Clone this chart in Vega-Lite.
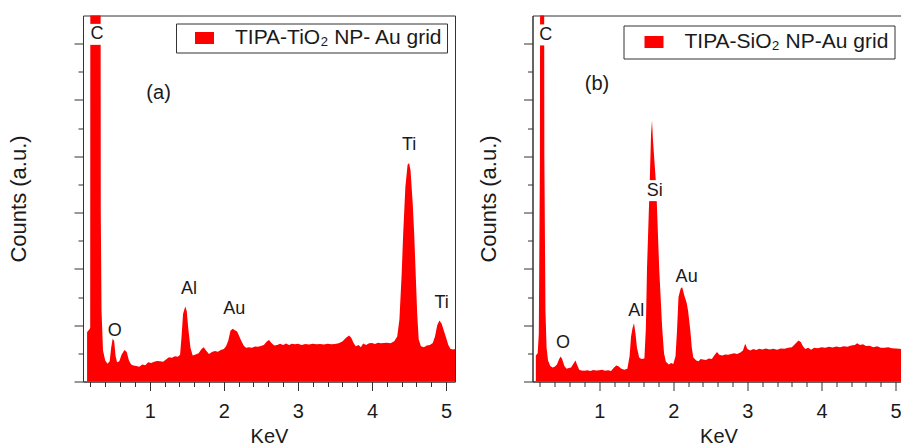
{
  "$schema": "https://vega.github.io/schema/vega-lite/v6.json",
  "padding": {"left": 7, "top": 14.5, "right": 0, "bottom": 0},
  "background": "white",
  "bounds": "flush",
  "spacing": 77.5,
  "config": {
    "font": "Liberation Sans",
    "view": {"stroke": "#333", "strokeWidth": 1},
    "axis": {
      "grid": false,
      "domainColor": "#333",
      "tickColor": "#333",
      "labelColor": "#1a1a1a",
      "titleColor": "#1a1a1a",
      "labelFont": "Liberation Sans",
      "titleFont": "Liberation Sans",
      "labelFontSize": 20,
      "titleFontSize": 20,
      "titleFontWeight": "normal"
    },
    "legend": {
      "labelFont": "Liberation Sans",
      "labelFontSize": 21,
      "labelColor": "#1a1a1a",
      "strokeColor": "#333",
      "fillColor": "white",
      "padding": 4,
      "symbolType": "M-1,-0.63H1V0.63H-1Z",
      "symbolSize": 361,
      "symbolStrokeWidth": 0,
      "symbolOffset": 14,
      "labelOffset": 20,
      "labelLimit": 400
    }
  },
  "resolve": {"scale": {"color": "independent"}, "legend": {"color": "independent"}},
  "datasets": {
    "specA": [
      {"keV":0.155,"counts":1.75},{"keV":0.17,"counts":1.8},{"keV":0.185,"counts":1.85},{"keV":0.197,"counts":1.9},
      {"keV":0.203,"counts":40},{"keV":0.33,"counts":40},{"keV":0.34,"counts":6},{"keV":0.35,"counts":2.5},
      {"keV":0.37,"counts":1.1},{"keV":0.40,"counts":0.75},{"keV":0.43,"counts":0.63},{"keV":0.46,"counts":0.72},
      {"keV":0.48,"counts":1.2},{"keV":0.50,"counts":1.52},{"keV":0.52,"counts":1.45},{"keV":0.54,"counts":0.9},
      {"keV":0.56,"counts":0.68},{"keV":0.59,"counts":0.72},{"keV":0.62,"counts":0.95},{"keV":0.66,"counts":1.12},
      {"keV":0.69,"counts":1.05},{"keV":0.72,"counts":0.75},{"keV":0.75,"counts":0.6},{"keV":0.78,"counts":0.57},
      {"keV":0.82,"counts":0.55},{"keV":0.86,"counts":0.52},{"keV":0.90,"counts":0.6},{"keV":0.94,"counts":0.58},
      {"keV":0.98,"counts":0.68},{"keV":1.02,"counts":0.66},{"keV":1.06,"counts":0.7},{"keV":1.10,"counts":0.73},
      {"keV":1.14,"counts":0.72},{"keV":1.18,"counts":0.7},{"keV":1.22,"counts":0.78},{"keV":1.26,"counts":0.86},
      {"keV":1.30,"counts":0.84},{"keV":1.34,"counts":0.9},{"keV":1.38,"counts":0.88},{"keV":1.41,"counts":0.95},
      {"keV":1.43,"counts":1.6},{"keV":1.45,"counts":2.4},{"keV":1.48,"counts":2.66},{"keV":1.50,"counts":2.5},
      {"keV":1.52,"counts":1.9},{"keV":1.55,"counts":1.2},{"keV":1.58,"counts":0.92},{"keV":1.62,"counts":0.96},
      {"keV":1.66,"counts":1.0},{"keV":1.70,"counts":1.15},{"keV":1.73,"counts":1.22},{"keV":1.76,"counts":1.1},
      {"keV":1.80,"counts":0.98},{"keV":1.84,"counts":1.05},{"keV":1.88,"counts":1.08},{"keV":1.92,"counts":1.06},
      {"keV":1.96,"counts":1.12},{"keV":2.00,"counts":1.15},{"keV":2.03,"counts":1.25},{"keV":2.06,"counts":1.45},
      {"keV":2.09,"counts":1.8},{"keV":2.12,"counts":1.87},{"keV":2.15,"counts":1.82},{"keV":2.18,"counts":1.78},
      {"keV":2.21,"counts":1.6},{"keV":2.24,"counts":1.42},{"keV":2.27,"counts":1.27},{"keV":2.30,"counts":1.2},
      {"keV":2.34,"counts":1.22},{"keV":2.38,"counts":1.2},{"keV":2.42,"counts":1.24},{"keV":2.46,"counts":1.23},
      {"keV":2.50,"counts":1.26},{"keV":2.54,"counts":1.3},{"keV":2.58,"counts":1.42},{"keV":2.61,"counts":1.47},
      {"keV":2.64,"counts":1.38},{"keV":2.68,"counts":1.28},{"keV":2.72,"counts":1.3},{"keV":2.76,"counts":1.34},
      {"keV":2.80,"counts":1.3},{"keV":2.84,"counts":1.35},{"keV":2.88,"counts":1.3},{"keV":2.92,"counts":1.34},
      {"keV":2.96,"counts":1.32},{"keV":3.00,"counts":1.34},{"keV":3.05,"counts":1.3},{"keV":3.10,"counts":1.33},
      {"keV":3.15,"counts":1.31},{"keV":3.20,"counts":1.34},{"keV":3.25,"counts":1.32},{"keV":3.30,"counts":1.33},
      {"keV":3.35,"counts":1.31},{"keV":3.40,"counts":1.34},{"keV":3.45,"counts":1.32},{"keV":3.50,"counts":1.33},
      {"keV":3.55,"counts":1.36},{"keV":3.60,"counts":1.42},{"keV":3.65,"counts":1.55},{"keV":3.69,"counts":1.63},
      {"keV":3.72,"counts":1.55},{"keV":3.75,"counts":1.38},{"keV":3.78,"counts":1.25},{"keV":3.82,"counts":1.3},
      {"keV":3.85,"counts":1.22},{"keV":3.88,"counts":1.35},{"keV":3.92,"counts":1.3},{"keV":3.96,"counts":1.36},
      {"keV":4.00,"counts":1.37},{"keV":4.04,"counts":1.33},{"keV":4.08,"counts":1.38},{"keV":4.12,"counts":1.36},
      {"keV":4.16,"counts":1.37},{"keV":4.20,"counts":1.38},{"keV":4.25,"counts":1.36},{"keV":4.30,"counts":1.43},
      {"keV":4.34,"counts":1.6},{"keV":4.37,"counts":2.2},{"keV":4.40,"counts":3.8},{"keV":4.42,"counts":5.2},
      {"keV":4.45,"counts":6.9},{"keV":4.48,"counts":7.7},{"keV":4.50,"counts":7.76},{"keV":4.52,"counts":7.5},
      {"keV":4.55,"counts":6.3},{"keV":4.57,"counts":5.2},{"keV":4.59,"counts":3.8},{"keV":4.61,"counts":2.4},
      {"keV":4.63,"counts":1.5},{"keV":4.66,"counts":1.25},{"keV":4.70,"counts":1.22},{"keV":4.74,"counts":1.28},
      {"keV":4.78,"counts":1.3},{"keV":4.82,"counts":1.37},{"keV":4.85,"counts":1.6},{"keV":4.88,"counts":2.0},
      {"keV":4.91,"counts":2.17},{"keV":4.94,"counts":2.05},{"keV":4.97,"counts":1.8},{"keV":5.00,"counts":1.55},
      {"keV":5.03,"counts":1.3},{"keV":5.06,"counts":1.15},{"keV":5.10,"counts":1.14},{"keV":5.12,"counts":1.15}
    ],
    "specB": [
      {"keV":0.145,"counts":0.92},{"keV":0.17,"counts":1.0},{"keV":0.185,"counts":1.7},{"keV":0.20,"counts":8},
      {"keV":0.215,"counts":40},{"keV":0.245,"counts":40},{"keV":0.26,"counts":8},{"keV":0.275,"counts":2.5},
      {"keV":0.29,"counts":1.2},{"keV":0.31,"counts":0.75},{"keV":0.34,"counts":0.55},{"keV":0.37,"counts":0.5},
      {"keV":0.40,"counts":0.52},{"keV":0.43,"counts":0.6},{"keV":0.46,"counts":0.8},{"keV":0.48,"counts":0.89},
      {"keV":0.50,"counts":0.8},{"keV":0.53,"counts":0.55},{"keV":0.56,"counts":0.45},{"keV":0.59,"counts":0.48},
      {"keV":0.62,"counts":0.5},{"keV":0.65,"counts":0.62},{"keV":0.68,"counts":0.75},{"keV":0.70,"counts":0.6},
      {"keV":0.73,"counts":0.42},{"keV":0.76,"counts":0.39},{"keV":0.80,"counts":0.38},{"keV":0.84,"counts":0.4},
      {"keV":0.88,"counts":0.37},{"keV":0.92,"counts":0.41},{"keV":0.96,"counts":0.39},{"keV":1.00,"counts":0.4},
      {"keV":1.04,"counts":0.42},{"keV":1.08,"counts":0.38},{"keV":1.12,"counts":0.4},{"keV":1.16,"counts":0.37},
      {"keV":1.20,"counts":0.5},{"keV":1.23,"counts":0.57},{"keV":1.26,"counts":0.54},{"keV":1.30,"counts":0.45},
      {"keV":1.34,"counts":0.42},{"keV":1.38,"counts":0.45},{"keV":1.41,"counts":0.9},{"keV":1.43,"counts":1.6},
      {"keV":1.45,"counts":1.9},{"keV":1.47,"counts":2.07},{"keV":1.49,"counts":1.7},{"keV":1.51,"counts":1.2},
      {"keV":1.54,"counts":0.85},{"keV":1.57,"counts":0.8},{"keV":1.61,"counts":0.82},{"keV":1.63,"counts":1.9},
      {"keV":1.645,"counts":4.0},{"keV":1.68,"counts":6.9},{"keV":1.70,"counts":8.8},{"keV":1.713,"counts":9.27},
      {"keV":1.725,"counts":8.6},{"keV":1.77,"counts":6.9},{"keV":1.81,"counts":4.0},{"keV":1.85,"counts":1.9},
      {"keV":1.875,"counts":1.0},{"keV":1.90,"counts":0.7},{"keV":1.94,"counts":0.6},{"keV":1.97,"counts":0.66},
      {"keV":2.00,"counts":0.62},{"keV":2.03,"counts":0.9},{"keV":2.05,"counts":1.8},{"keV":2.07,"counts":3.0},
      {"keV":2.10,"counts":3.3},{"keV":2.12,"counts":3.35},{"keV":2.15,"counts":3.05},{"keV":2.18,"counts":2.8},
      {"keV":2.20,"counts":2.5},{"keV":2.23,"counts":1.8},{"keV":2.25,"counts":1.2},{"keV":2.27,"counts":0.85},
      {"keV":2.31,"counts":0.75},{"keV":2.34,"counts":0.72},{"keV":2.37,"counts":0.8},{"keV":2.40,"counts":0.78},
      {"keV":2.44,"counts":0.76},{"keV":2.48,"counts":0.82},{"keV":2.52,"counts":0.8},{"keV":2.56,"counts":0.95},
      {"keV":2.59,"counts":1.05},{"keV":2.62,"counts":0.95},{"keV":2.66,"counts":0.92},{"keV":2.70,"counts":0.96},
      {"keV":2.74,"counts":0.95},{"keV":2.78,"counts":0.98},{"keV":2.82,"counts":1.0},{"keV":2.86,"counts":0.98},
      {"keV":2.90,"counts":1.02},{"keV":2.94,"counts":1.1},{"keV":2.97,"counts":1.34},{"keV":3.00,"counts":1.15},
      {"keV":3.04,"counts":1.1},{"keV":3.08,"counts":1.15},{"keV":3.12,"counts":1.12},{"keV":3.16,"counts":1.16},
      {"keV":3.20,"counts":1.14},{"keV":3.25,"counts":1.17},{"keV":3.30,"counts":1.14},{"keV":3.35,"counts":1.16},
      {"keV":3.40,"counts":1.13},{"keV":3.45,"counts":1.17},{"keV":3.50,"counts":1.16},{"keV":3.55,"counts":1.2},
      {"keV":3.60,"counts":1.22},{"keV":3.65,"counts":1.35},{"keV":3.69,"counts":1.46},{"keV":3.72,"counts":1.4},
      {"keV":3.75,"counts":1.25},{"keV":3.78,"counts":1.15},{"keV":3.82,"counts":1.2},{"keV":3.86,"counts":1.13},
      {"keV":3.90,"counts":1.2},{"keV":3.95,"counts":1.18},{"keV":4.00,"counts":1.22},{"keV":4.05,"counts":1.2},
      {"keV":4.10,"counts":1.23},{"keV":4.15,"counts":1.21},{"keV":4.20,"counts":1.24},{"keV":4.25,"counts":1.22},
      {"keV":4.30,"counts":1.25},{"keV":4.35,"counts":1.23},{"keV":4.40,"counts":1.28},{"keV":4.45,"counts":1.3},
      {"keV":4.48,"counts":1.36},{"keV":4.52,"counts":1.3},{"keV":4.56,"counts":1.32},{"keV":4.60,"counts":1.26},
      {"keV":4.65,"counts":1.27},{"keV":4.70,"counts":1.22},{"keV":4.75,"counts":1.25},{"keV":4.80,"counts":1.2},
      {"keV":4.85,"counts":1.2},{"keV":4.90,"counts":1.22},{"keV":4.95,"counts":1.18},{"keV":5.00,"counts":1.17},
      {"keV":5.05,"counts":1.16},{"keV":5.12,"counts":1.15}
    ],
    "labelsA": [
      {"label":"C","keV":0.29,"counts":12.33},
      {"label":"(a)","keV":1.12,"counts":10.26},
      {"label":"O","keV":0.53,"counts":1.79},
      {"label":"Al","keV":1.53,"counts":3.29},
      {"label":"Au","keV":2.14,"counts":2.57},
      {"label":"Ti","keV":4.50,"counts":8.41},
      {"label":"Ti","keV":4.94,"counts":2.78}
    ],
    "labelsB": [
      {"label":"C","keV":0.28,"counts":12.31},
      {"label":"(b)","keV":0.97,"counts":10.57},
      {"label":"O","keV":0.51,"counts":1.36},
      {"label":"Al","keV":1.50,"counts":2.49},
      {"label":"Si","keV":1.75,"counts":6.78},
      {"label":"Au","keV":2.18,"counts":3.70}
    ]
  },
  "hconcat": [
    {
      "width": 372,
      "height": 366,
      "layer": [
        {
          "data": {"name": "specA"},
          "mark": {"type": "area", "clip": true, "interpolate": "linear"},
          "encoding": {
            "x": {"field": "keV", "type": "quantitative",
              "scale": {"domain": [0.1, 5.12], "nice": false, "zero": false},
              "axis": {
                "title": "KeV",
                "tickCount": 100,
                "values": [0.2,0.4,0.6,0.8,1,1.2,1.4,1.6,1.8,2,2.2,2.4,2.6,2.8,3,3.2,3.4,3.6,3.8,4,4.2,4.4,4.6,4.8,5],
                "labelExpr": "abs(datum.value - round(datum.value)) < 0.01 ? format(datum.value, 'd') : ''",
                "tickSize": {"condition": {"test": "abs(datum.value - round(datum.value)) < 0.01", "value": 9}, "value": 5},
                "labelPadding": 11,
                "titlePadding": 5,
                "labelFlush": false,
                "labelOverlap": false
              }},
            "y": {"field": "counts", "type": "quantitative",
              "scale": {"domain": [0, 13], "nice": false, "zero": true},
              "axis": {
                "title": "Counts (a.u.)",
                "titleFontSize": 22,
                "tickCount": 100,
                "values": [0,1,2,3,4,5,6,7,8,9,10,11,12],
                "labels": false,
                "tickSize": {"condition": {"test": "datum.value % 2 === 0", "value": 9}, "value": 5},
                "titlePadding": 43
              }},
            "color": {"datum": "TIPA-TiO₂ NP- Au grid", "type": "nominal",
              "scale": {"range": ["#ff0000"]},
              "legend": {"title": null, "orient": "top-right", "offset": 8}}
          }
        },
        {
          "data": {"name": "labelsA"},
          "transform": [{"filter": "datum.label === 'C'"}],
          "mark": {"type": "point", "shape": "square", "filled": true, "color": "white", "opacity": 1, "size": 441, "strokeWidth": 0},
          "encoding": {
            "x": {"field": "keV", "type": "quantitative"},
            "y": {"field": "counts", "type": "quantitative"}
          }
        },
        {
          "data": {"name": "labelsA"},
          "mark": {"type": "text", "align": "center", "baseline": "middle", "color": "#1a1a1a", "font": "Liberation Sans"},
          "encoding": {
            "x": {"field": "keV", "type": "quantitative"},
            "y": {"field": "counts", "type": "quantitative"},
            "text": {"field": "label", "type": "nominal"},
            "size": {"condition": {"test": "indexof(datum.label, '(') === 0", "value": 20}, "value": 18}
          }
        }
      ]
    },
    {
      "width": 372,
      "height": 366,
      "layer": [
        {
          "data": {"name": "specB"},
          "mark": {"type": "area", "clip": true, "interpolate": "linear"},
          "encoding": {
            "x": {"field": "keV", "type": "quantitative",
              "scale": {"domain": [0.1, 5.12], "nice": false, "zero": false},
              "axis": {
                "title": "KeV",
                "tickCount": 100,
                "values": [0.2,0.4,0.6,0.8,1,1.2,1.4,1.6,1.8,2,2.2,2.4,2.6,2.8,3,3.2,3.4,3.6,3.8,4,4.2,4.4,4.6,4.8,5],
                "labelExpr": "abs(datum.value - round(datum.value)) < 0.01 ? format(datum.value, 'd') : ''",
                "tickSize": {"condition": {"test": "abs(datum.value - round(datum.value)) < 0.01", "value": 9}, "value": 5},
                "labelPadding": 11,
                "titlePadding": 5,
                "labelFlush": false,
                "labelOverlap": false
              }},
            "y": {"field": "counts", "type": "quantitative",
              "scale": {"domain": [0, 13], "nice": false, "zero": true},
              "axis": {
                "title": "Counts (a.u.)",
                "titleFontSize": 22,
                "tickCount": 100,
                "values": [0,1,2,3,4,5,6,7,8,9,10,11,12],
                "labels": false,
                "tickSize": {"condition": {"test": "datum.value % 2 === 0", "value": 9}, "value": 5},
                "titlePadding": 23
              }},
            "color": {"datum": "TIPA-SiO₂ NP-Au grid", "type": "nominal",
              "scale": {"range": ["#ff0000"]},
              "legend": {"title": null, "orient": "top-right", "offset": 10, "padding": 6}}
          }
        },
        {
          "data": {"name": "labelsB"},
          "transform": [{"filter": "datum.label === 'C' || datum.label === 'Si'"}],
          "mark": {"type": "point", "shape": "square", "filled": true, "color": "white", "opacity": 1, "size": 441, "strokeWidth": 0},
          "encoding": {
            "x": {"field": "keV", "type": "quantitative"},
            "y": {"field": "counts", "type": "quantitative"}
          }
        },
        {
          "data": {"name": "labelsB"},
          "mark": {"type": "text", "align": "center", "baseline": "middle", "color": "#1a1a1a", "font": "Liberation Sans"},
          "encoding": {
            "x": {"field": "keV", "type": "quantitative"},
            "y": {"field": "counts", "type": "quantitative"},
            "text": {"field": "label", "type": "nominal"},
            "size": {"condition": {"test": "indexof(datum.label, '(') === 0", "value": 20}, "value": 18}
          }
        }
      ]
    }
  ]
}
